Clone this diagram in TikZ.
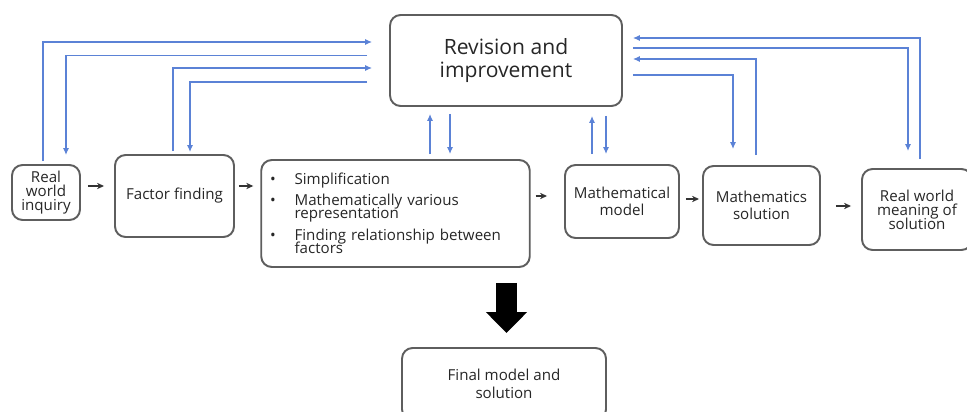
\documentclass[tikz,border=0pt]{standalone}
\usepackage{fontspec}
\setmainfont{Open Sans}
\usetikzlibrary{arrows.meta, positioning, calc}
\definecolor{boxgray}{HTML}{5E5E5E}
\definecolor{loopblue}{HTML}{5B82D6}
\definecolor{txtgray}{HTML}{262626}
\newcommand\tightlines{\lineskiplimit=-5pt\relax}
\tikzset{
  box/.style={rectangle, draw=boxgray, line width=1.1pt, rounded corners=6pt,
              align=center, text=txtgray, inner sep=2pt,
              font=\fontsize{8.6}{10}\selectfont},
  fb/.style={-{Latex[length=4pt, width=3.6pt]}, line width=1.1pt, color=loopblue},
  arrow/.style={-{Stealth[length=4pt, width=3.6pt]}, line width=0.8pt, color=black!80},
  bigarrow/.style={-{Triangle[length=0.42cm, width=0.8cm]}, line width=0.42cm, color=black},
}
\begin{document}
\begin{tikzpicture}[x=0.02cm, y=-0.02cm]
  \useasboundingbox (0,0) rectangle (967,412);

  % boxes
  \node[box, minimum width=4.64cm, minimum height=1.82cm,
        font=\fontsize{12}{13}\selectfont] (rev) at (506,60.5) {Revision and\\improvement};
  \node[box, minimum width=1.36cm, minimum height=1.1cm,
        font=\fontsize{8.6}{8}\selectfont\tightlines] (inq) at (46,192.5) {Real\\world\\inquiry};
  \node[box, minimum width=2.38cm, minimum height=1.64cm] (factor) at (174.5,196) {Factor finding};
  \node[box, minimum width=5.3cm, minimum height=2.14cm, text width=5.02cm, align=left,
        inner xsep=5pt, font=\fontsize{8.6}{7.4}\selectfont\tightlines] (simp) at (395.5,213.5)
        {\makebox[14pt][l]{\textbullet}Simplification\\[4.6pt]
         \makebox[14pt][l]{\textbullet}Mathematically various\\
         \hspace*{14pt}representation\\[5.4pt]
         \makebox[14pt][l]{\textbullet}Finding relationship between\\
         \hspace*{14pt}factors};
  \node[box, minimum width=2.28cm, minimum height=1.46cm] (model) at (622,201.5) {Mathematical\\model};
  \node[box, minimum width=2.34cm, minimum height=1.58cm] (msol) at (761.5,205.5) {Mathematics\\solution};
  \node[box, minimum width=2.2cm, minimum height=1.62cm,
        font=\fontsize{8.6}{8}\selectfont\tightlines] (meaning) at (917,209.5) {Real world\\meaning of\\solution};
  \node[box, minimum width=4.08cm, minimum height=1.44cm] (final) at (504,384) {Final model and\\solution};

  % main chain
  \draw[arrow] ($(inq.east)+(7,-6.5)$) -- ($(inq.east-|factor.west)+(-10,-6.5)$);
  \draw[arrow] ($(factor.east)+(4,-10)$) -- ($(factor.east-|simp.west)+(-7,-10)$);
  \draw[arrow] ($(simp.east)+(5,-17.5)$) -- ($(simp.east-|model.west)+(-17,-17.5)$);
  \draw[arrow] ($(model.east)+(6,-2.5)$) -- ($(model.east-|msol.west)+(-3,-2.5)$);
  \draw[arrow] ($(msol.east)+(15,0.5)$) -- ($(msol.east-|meaning.west)+(-10,0.5)$);

  % feedback loops, left side
  \draw[fb] ($(inq.north)+(-3,-3)$) |- ($(rev.west)+(-17,-18.5)$);
  \draw[fb] ($(rev.west)+(-22,-5)$) -| ($(inq.north)+(20,-9)$);
  \draw[fb] ($(factor.north)+(-1.5,-3)$) |- ($(rev.west)+(-17,7.5)$);
  \draw[fb] ($(rev.west)+(-22,21.5)$) -| ($(factor.north)+(15.5,-2)$);

  % feedback loops, middle
  \draw[fb] ($(simp.north)+(34.5,-5)$) -- ($(rev.south-|simp.north)+(34.5,7)$);
  \draw[fb] ($(rev.south-|simp.north)+(54.5,7)$) -- ($(simp.north)+(54.5,-5)$);
  \draw[fb] ($(model.north)+(-30,-10)$) -- ($(rev.south-|model.north)+(-30,9)$);
  \draw[fb] ($(rev.south-|model.north)+(-16,9)$) -- ($(model.north)+(-16,-10)$);

  % feedback loops, right side
  \draw[fb] ($(meaning.north)+(3,-9)$) |- ($(rev.east)+(10,-22.5)$);
  \draw[fb] ($(rev.east)+(10,-12.5)$) -| ($(meaning.north)+(-9,-17)$);
  \draw[fb] ($(msol.north)+(-5.5,-10)$) |- ($(rev.east)+(10,-1.5)$);
  \draw[fb] ($(rev.east)+(10,14.5)$) -| ($(msol.north)+(-28.5,-16)$);

  % to the final model
  \draw[bigarrow] ($(simp.south-|final.north)+(2.5,15)$) -- ($(final.north)+(2.5,-14)$);
\end{tikzpicture}
\end{document}
